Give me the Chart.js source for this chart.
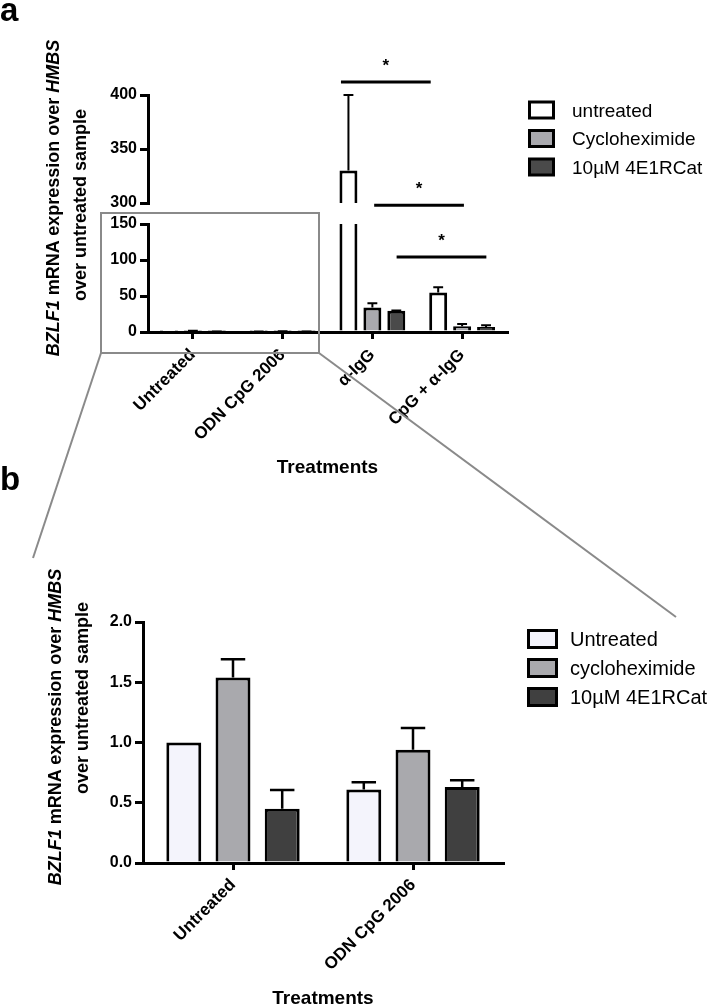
<!DOCTYPE html>
<html>
<head>
<meta charset="utf-8">
<script src="https://cdn.jsdelivr.net/npm/chart.js@4.4.1/dist/chart.umd.min.js"></script>
<style>
  html, body { margin: 0; padding: 0; background: #fff; }
  #page { position: relative; width: 707px; height: 1007px; overflow: hidden; }
  canvas { position: absolute; left: 0; }
  #overlay { position: absolute; left: 0; top: 0; pointer-events: none; }
</style>
</head>
<body>
<div id="page">
  <canvas id="aTop" width="520" height="180" style="top:40px"></canvas>
  <canvas id="aBottom" width="520" height="280" style="top:205px"></canvas>
  <canvas id="bChart" width="520" height="430" style="top:590px"></canvas>
  <svg id="overlay" width="707" height="1007" xmlns="http://www.w3.org/2000/svg"></svg>
</div>
<script>
// ---------- data ----------
const FONT = '"Liberation Sans", Arial, sans-serif';

// panel a
const aCategories = ["Untreated", "ODN CpG 2006", "α-IgG", "CpG + α-IgG"];
const aSeries = ["untreated", "Cycloheximide", "10µM 4E1RCat"];
const aUntreated = [1.0, 0.61, 330, 55];
const aUntreatedErr = [0, 0.06, 70, 7];
const aCyclo = [1.54, 0.94, 34, 8];
const aCycloErr = [0.15, 0.18, 6, 3];
const a4E1 = [0.45, 0.63, 29.5, 7];
const a4E1Err = [0.16, 0.06, 0.5, 2.5];
const aColors = ["#ffffff", "#a9a9ae", "#4a4a4a"];
const aLowTicks = [0, 150, 50];    // min, max, step
const aHighTicks = [300, 400, 50];

// significance bars (panel a)
const sigFrom = [1.65, 2.02, 2.27];
const sigTo = [2.65, 3.02, 3.27];
const sigLevel = [412, 298, 104];
const sigLabel = ["*", "*", "*"];

// panel b
const bCategories = ["Untreated", "ODN CpG 2006"];
const bSeries = ["Untreated", "cycloheximide", "10µM 4E1RCat"];
const bUntreated = [1.0, 0.61];
const bUntreatedErr = [0, 0.06];
const bCyclo = [1.54, 0.94];
const bCycloErr = [0.15, 0.18];
const b4E1 = [0.45, 0.63];
const b4E1Err = [0.155, 0.057];
const bColors = ["#f4f4fc", "#a9a9ad", "#404040"];
const bTicks = [0, 2, 0.5];

// ---------- plugins ----------
const errorBars = {
  id: "errorBars",
  afterDatasetsDraw(chart, args, opts) {
    const ctx = chart.ctx;
    const y = chart.scales.y;
    ctx.save();
    ctx.strokeStyle = "#000";
    ctx.lineWidth = opts.lineWidth || 2;
    chart.data.datasets.forEach((ds, di) => {
      if (!ds.errors) return;
      const meta = chart.getDatasetMeta(di);
      meta.data.forEach((bar, i) => {
        const v = ds.data[i], e = ds.errors[i];
        if (v == null || !e || v > y.max) return;
        const top = y.getPixelForValue(v + e);
        const half = bar.width * (opts.cap || 0.6) / 2;
        ctx.beginPath();
        ctx.moveTo(bar.x, bar.y);
        ctx.lineTo(bar.x, top);
        ctx.moveTo(bar.x - half, top);
        ctx.lineTo(bar.x + half, top);
        ctx.stroke();
      });
    });
    ctx.restore();
  }
};

const sigBars = {
  id: "sigBars",
  afterDatasetsDraw(chart, args, opts) {
    if (!opts.items || !opts.items.length) return;
    const { ctx, scales: { x, y } } = chart;
    ctx.save();
    ctx.lineWidth = 3;
    ctx.strokeStyle = "#000";
    ctx.fillStyle = "#000";
    ctx.font = "bold 17px " + FONT;
    ctx.textAlign = "center";
    ctx.textBaseline = "middle";
    opts.items.forEach(it => {
      const py = y.getPixelForValue(it.level);
      const x1 = x.getPixelForValue(it.from);
      const x2 = x.getPixelForValue(it.to);
      ctx.beginPath();
      ctx.moveTo(x1, py);
      ctx.lineTo(x2, py);
      ctx.stroke();
      ctx.fillText(it.label, (x1 + x2) / 2, py - 16);
    });
    ctx.restore();
  }
};

// ---------- helpers ----------
function yScale(t, width, fmt) {
  return {
    min: t[0], max: t[1],
    ticks: { stepSize: t[2], color: "#000", padding: 3,
      font: { family: FONT, size: 16, weight: "bold" }, callback: fmt },
    grid: { drawOnChartArea: false, color: "#000", lineWidth: 3, tickLength: 8 },
    border: { color: "#000", width: 3 },
    afterFit(s) { s.width = width; }
  };
}

function xScale(height, labelPad, titlePad) {
  return {
    ticks: { color: "#000", padding: labelPad, autoSkip: false, minRotation: 45, maxRotation: 45,
      font: { family: FONT, size: 17, weight: "bold" } },
    grid: { drawOnChartArea: false, offset: false, color: "#000", lineWidth: 3, tickLength: 7 },
    border: { color: "#000", width: 3 },
    title: { display: true, text: "Treatments", color: "#000",
      font: { family: FONT, size: 19, weight: "bold" }, padding: { top: 0, bottom: titlePad } },
    afterFit(s) { s.height = height; }
  };
}

function sets(names, values, errors, colors, catPct, barPct, clip) {
  return names.map((name, k) => ({
    label: name,
    data: values[k],
    errors: errors[k],
    backgroundColor: colors[k],
    borderColor: "#000",
    borderWidth: 3,
    borderSkipped: "start",
    categoryPercentage: catPct,
    barPercentage: barPct,
    clip: clip
  }));
}

function baseOptions(padding) {
  return {
    responsive: false,
    animation: false,
    layout: { padding: padding },
    plugins: { legend: { display: false }, tooltip: { enabled: false } }
  };
}

// ---------- panel a, upper segment (break above 150) ----------
const highOnly = arr => arr.map(v => (v >= aHighTicks[0] ? v : null));
const aTopOpts = baseOptions({ top: 55, bottom: 17, left: 0, right: 13 });
aTopOpts.scales = {
  x: { display: false },
  y: yScale(aHighTicks, 148, v => v)
};
aTopOpts.plugins.errorBars = { cap: 0.55, lineWidth: 2 };
aTopOpts.plugins.sigBars = {
  items: sigLevel.map((lv, i) => ({ from: sigFrom[i], to: sigTo[i], level: lv, label: sigLabel[i] }))
    .filter(it => it.level > aLowTicks[1])
};
new Chart(document.getElementById("aTop"), {
  type: "bar",
  data: {
    labels: aCategories,
    datasets: sets(aSeries, [highOnly(aUntreated), highOnly(aCyclo), highOnly(a4E1)],
      [aUntreatedErr, aCycloErr, a4E1Err], aColors, 0.8, 0.75, 0)
  },
  options: aTopOpts,
  plugins: [errorBars, sigBars]
});

// ---------- panel a, lower segment ----------
const aLowOpts = baseOptions({ top: 19, bottom: 0, left: 0, right: 13 });
aLowOpts.scales = {
  x: xScale(153, 6, 6),
  y: yScale(aLowTicks, 148, v => v)
};
aLowOpts.plugins.errorBars = { cap: 0.55, lineWidth: 2 };
aLowOpts.plugins.sigBars = {
  items: sigLevel.map((lv, i) => ({ from: sigFrom[i], to: sigTo[i], level: lv, label: sigLabel[i] }))
    .filter(it => it.level <= aLowTicks[1])
};
new Chart(document.getElementById("aBottom"), {
  type: "bar",
  data: {
    labels: aCategories,
    datasets: sets(aSeries, [aUntreated, aCyclo, a4E1],
      [aUntreatedErr, aCycloErr, a4E1Err], aColors, 0.8, 0.75, 0)
  },
  options: aLowOpts,
  plugins: [errorBars, sigBars]
});

// ---------- panel b ----------
const bOpts = baseOptions({ top: 32, bottom: 0, left: 0, right: 17 });
bOpts.scales = {
  x: xScale(157, 5, 10),
  y: yScale(bTicks, 143, v => Number(v).toFixed(1))
};
bOpts.plugins.errorBars = { cap: 0.7, lineWidth: 2.5 };
new Chart(document.getElementById("bChart"), {
  type: "bar",
  data: {
    labels: bCategories,
    datasets: sets(bSeries, [bUntreated, bCyclo, b4E1],
      [bUntreatedErr, bCycloErr, b4E1Err], bColors, 0.82, 0.71, false)
  },
  options: bOpts,
  plugins: [errorBars]
});

// ---------- overlay: zoom box, labels, titles, legends ----------
const svg = document.getElementById("overlay");
const NS = "http://www.w3.org/2000/svg";
function add(parent, tag, attrs, text) {
  const el = document.createElementNS(NS, tag);
  for (const k in attrs) el.setAttribute(k, attrs[k]);
  if (text != null) el.textContent = text;
  parent.appendChild(el);
  return el;
}

// zoom box and connector lines
const gray = { stroke: "#8a8a8a", "stroke-width": 2, fill: "none" };
add(svg, "rect", Object.assign({ x: 101, y: 213, width: 218, height: 140 }, gray));
add(svg, "line", Object.assign({ x1: 101, y1: 353, x2: 33, y2: 558 }, gray));
add(svg, "line", Object.assign({ x1: 319, y1: 353, x2: 676, y2: 617 }, gray));

// panel letters
add(svg, "text", { x: 0, y: 21, "font-family": FONT, "font-size": 33, "font-weight": "bold" }, "a");
add(svg, "text", { x: 0, y: 490, "font-family": FONT, "font-size": 33, "font-weight": "bold" }, "b");

// y axis titles
function yTitle(cx1, cy1, cx2, cy2) {
  const t1 = add(svg, "text", { transform: `translate(${cx1},${cy1}) rotate(-90)`, "text-anchor": "middle",
    "dominant-baseline": "central", "font-family": FONT, "font-size": 18, "font-weight": "bold" });
  add(t1, "tspan", { "font-style": "italic" }, "BZLF1");
  add(t1, "tspan", {}, " mRNA expression over ");
  add(t1, "tspan", { "font-style": "italic" }, "HMBS");
  add(svg, "text", { transform: `translate(${cx2},${cy2}) rotate(-90)`, "text-anchor": "middle",
    "dominant-baseline": "central", "font-family": FONT, "font-size": 18, "font-weight": "bold" },
    "over untreated sample");
}
yTitle(53, 198, 80, 205);
yTitle(55, 727, 82, 698);

// legends
function legend(names, colors, x, y0, dy, w, h, size, textX) {
  names.forEach((name, i) => {
    const cy = y0 + i * dy;
    add(svg, "rect", { x: x + 1.5, y: cy - h / 2 + 1.5, width: w - 3, height: h - 3,
      fill: colors[i], stroke: "#000", "stroke-width": 3 });
    add(svg, "text", { x: textX, y: cy, "dominant-baseline": "central", "font-family": FONT,
      "font-size": size }, name);
  });
}
legend(aSeries, aColors, 528, 110, 28.5, 27, 19, 19, 572);
legend(bSeries, bColors, 527, 639, 29, 31, 20, 20, 570);
</script>
</body>
</html>
